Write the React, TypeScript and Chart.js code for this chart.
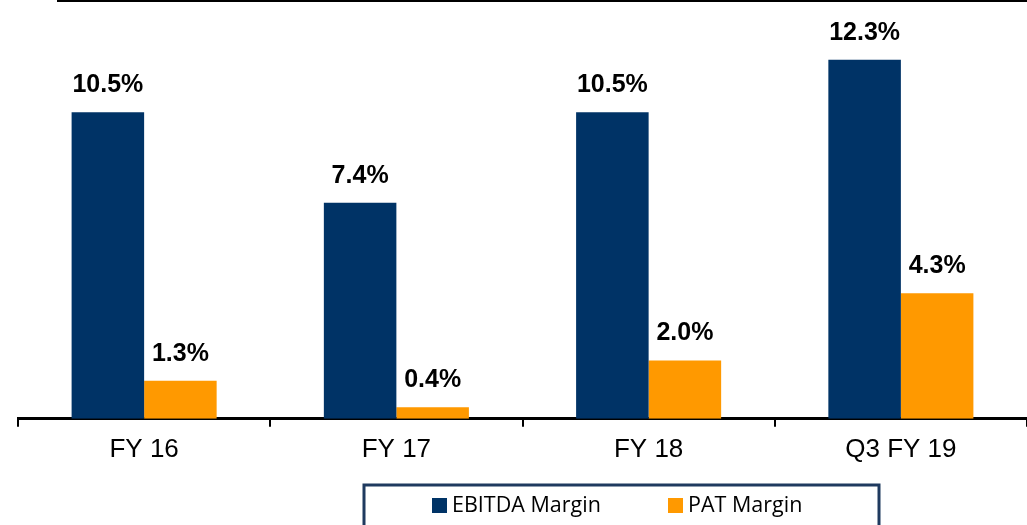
import React, { useEffect, useRef } from "react";
import { Chart, registerables } from "chart.js";

Chart.register(...registerables);

const categories = ["FY 16", "FY 17", "FY 18", "Q3 FY 19"];
const ebitdaMargin = [10.5, 7.4, 10.5, 12.3];
const patMargin = [1.3, 0.4, 2.0, 4.3];
const seriesNames = ["EBITDA Margin", "PAT Margin"];
const seriesColors = ["#003366", "#FF9900"];

const overlayPlugin = {
  id: "overlay",
  afterDraw(chart: any) {
    const ctx = chart.ctx;
    ctx.save();
    // top decorative rule
    ctx.strokeStyle = "#000";
    ctx.lineWidth = 2;
    ctx.beginPath();
    ctx.moveTo(57, 1);
    ctx.lineTo(chart.width, 1);
    ctx.stroke();

    // value labels
    ctx.fillStyle = "#000";
    ctx.font = "bold 25px 'Liberation Sans', Arial, sans-serif";
    ctx.textAlign = "center";
    ctx.textBaseline = "middle";
    chart.data.datasets.forEach((ds: any, di: number) => {
      const meta = chart.getDatasetMeta(di);
      meta.data.forEach((bar: any, i: number) => {
        ctx.fillText(ds.data[i].toFixed(1) + "%", bar.x, bar.y - 27);
      });
    });

    // legend box
    const bx = 364, by = 485, bw = 515, bh = 50;
    ctx.strokeStyle = "#1F3A5F";
    ctx.lineWidth = 3;
    ctx.strokeRect(bx, by, bw, bh);
    ctx.font = "21.5px 'Open Sans', sans-serif";
    ctx.textAlign = "left";
    ctx.textBaseline = "middle";
    const items = [432, 668];
    seriesNames.forEach((name, i) => {
      ctx.fillStyle = seriesColors[i];
      ctx.fillRect(items[i], 498, 15, 15);
      ctx.fillStyle = "#000";
      ctx.fillText(name, items[i] + 20, 506);
    });
    ctx.restore();
  },
};

export default function App() {
  const ref = useRef<HTMLCanvasElement>(null);
  useEffect(() => {
    const chart = new Chart(ref.current!, {
      type: "bar",
      data: {
        labels: categories,
        datasets: [
          { label: seriesNames[0], data: ebitdaMargin, backgroundColor: seriesColors[0], categoryPercentage: 0.575, barPercentage: 1 },
          { label: seriesNames[1], data: patMargin, backgroundColor: seriesColors[1], categoryPercentage: 0.575, barPercentage: 1 },
        ],
      },
      options: {
        animation: false,
        responsive: false,
        layout: { padding: { left: 18, right: 0, top: 0, bottom: 53 } },
        plugins: { legend: { display: false }, tooltip: { enabled: false } },
        scales: {
          x: {
            offset: true,
            grid: { display: true, drawOnChartArea: false, offset: true, color: "#000", lineWidth: 2, tickLength: 8 },
            border: { display: true, color: "#000", width: 3 },
            ticks: { color: "#000", font: { size: 26, family: "'Liberation Sans', Arial, sans-serif" }, padding: 7 },
          },
          y: {
            display: false,
            min: 0,
            max: 14.35,
          },
        },
      },
      plugins: [overlayPlugin],
    });
    return () => chart.destroy();
  }, []);
  return (
    <div style={{ position: "absolute", left: 0, top: 0, width: 1027, height: 525, background: "#fff" }}>
      <canvas ref={ref} width={1027} height={525} />
    </div>
  );
}
